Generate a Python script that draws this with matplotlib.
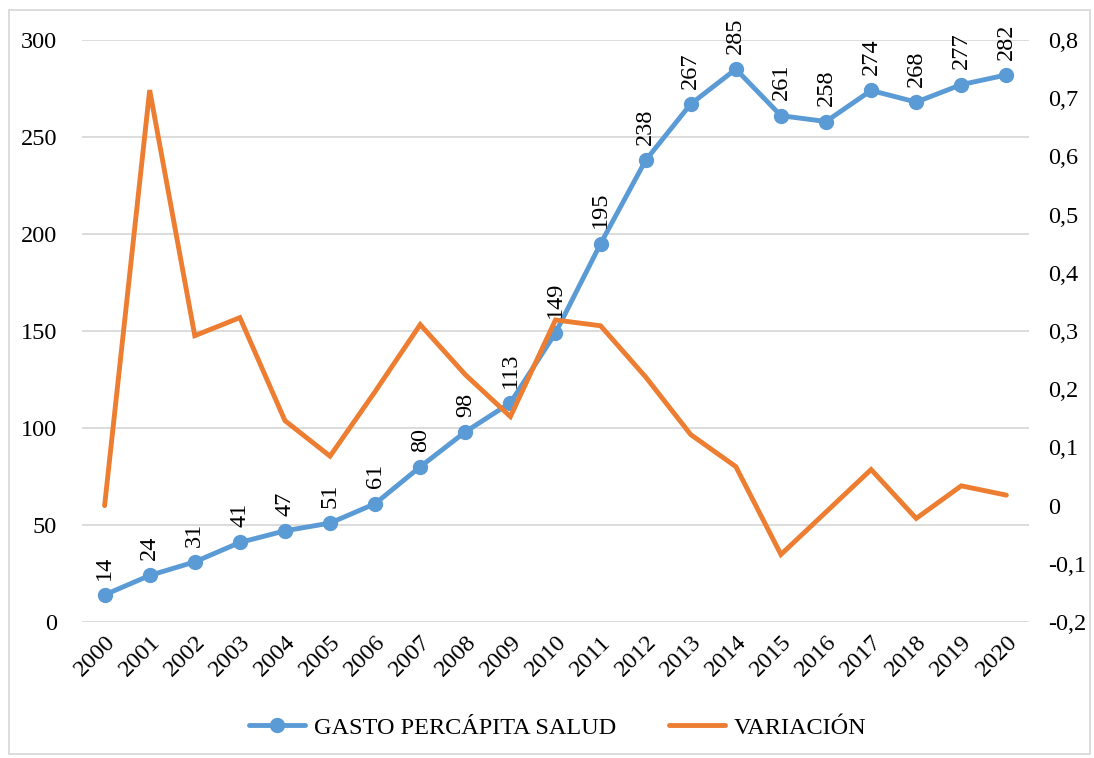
import matplotlib
matplotlib.use("Agg")
import matplotlib.pyplot as plt
from matplotlib.ticker import FuncFormatter

#########################################
# Data
#########################################

years = ["2000", "2001", "2002", "2003", "2004", "2005", "2006", "2007", "2008", "2009", "2010",
         "2011", "2012", "2013", "2014", "2015", "2016", "2017", "2018", "2019", "2020"]
gasto = [14, 24, 31, 41, 47, 51, 61, 80, 98, 113, 149, 195, 238, 267, 285, 261, 258, 274, 268, 277, 282]
variacion = [0.0, 0.714, 0.292, 0.323, 0.146, 0.085, 0.196, 0.311, 0.225, 0.153, 0.319,
             0.309, 0.221, 0.122, 0.067, -0.084, -0.011, 0.062, -0.022, 0.034, 0.018]

BLUE = "#5B9BD5"
ORANGE = "#ED7D31"
GRID = "#D9D9D9"

plt.rcParams["font.family"] = ["Liberation Serif", "DejaVu Serif"]
plt.rcParams["font.size"] = 17.5

#########################################
# Plot
#########################################

fig = plt.figure(figsize=(10.94, 7.58), dpi=100)
ax = fig.add_axes([0.075, 0.1794, 0.8655, 0.7678])
ax2 = ax.twinx()

x = list(range(len(years)))

l1, = ax.plot(x, gasto, color=BLUE, lw=3.5, marker="o", ms=10, solid_capstyle="round",
              label="GASTO PERCÁPITA SALUD", zorder=3)
for xi, v in zip(x, gasto):
    ax.annotate(str(v), (xi, v), xytext=(0, 11), textcoords="offset points",
                rotation=90, ha="center", va="bottom", fontsize=17.5)

l2, = ax2.plot(x, variacion, color=ORANGE, lw=3.5, solid_capstyle="round",
               solid_joinstyle="miter", label="VARIACIÓN")

ax.set_xlim(-0.5, len(years) - 0.5)
ax.set_ylim(0, 300)
ax.set_yticks(range(0, 301, 50))
ax2.set_ylim(-0.2, 0.8)
ax2.set_yticks([-0.2, -0.1, 0, 0.1, 0.2, 0.3, 0.4, 0.5, 0.6, 0.7, 0.8])
ax2.yaxis.set_major_formatter(FuncFormatter(lambda v, p: ("%g" % round(v, 1)).replace(".", ",")))

ax.set_xticks(x)
ax.set_xticklabels(years, rotation=45, ha="right", va="top", rotation_mode="anchor")

ax.yaxis.grid(True, color=GRID, lw=1.3)
ax.set_axisbelow(True)
for a in (ax, ax2):
    for s in a.spines.values():
        s.set_visible(False)
    a.tick_params(length=0)
ax.tick_params(axis="y", pad=18)
ax.tick_params(axis="x", pad=7)
ax2.tick_params(axis="y", pad=14)

fig.legend([l1, l2], ["GASTO PERCÁPITA SALUD", "VARIACIÓN"], loc="center",
           bbox_to_anchor=(0.51, 0.04), ncol=2, frameon=False, fontsize=17.5,
           handlelength=2.3, columnspacing=2.2, handletextpad=0.35)

fig.patches.append(plt.Rectangle((0.008, 0.005), 0.988, 0.982, transform=fig.transFigure,
                                 fill=False, edgecolor=GRID, lw=1.3))

fig.savefig("out.png", dpi=100)
